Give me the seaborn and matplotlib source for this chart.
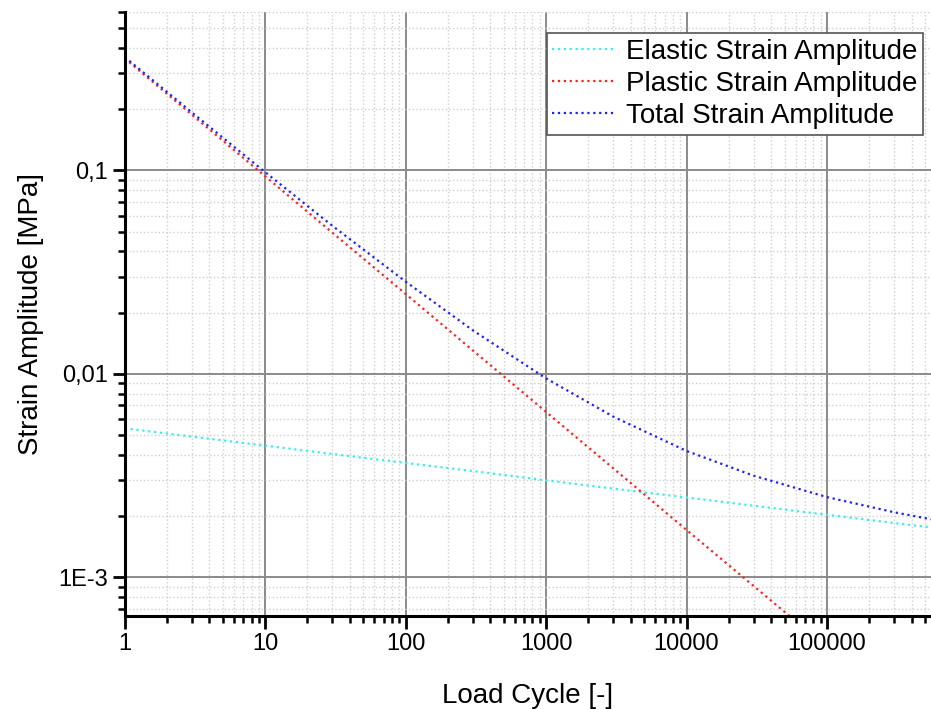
import matplotlib
matplotlib.use('Agg')
import matplotlib.pyplot as plt
import matplotlib.ticker as mticker
import seaborn as sns
import pandas as pd

# values (log-log plot)
load_cycles = [1, 3, 10, 30, 100, 300, 1000, 3000, 10000, 30000, 100000, 300000, 550000]
elastic = [0.0054, 0.00492, 0.00444, 0.00404, 0.00365, 0.00333, 0.00300,
           0.00273, 0.00247, 0.00225, 0.00203, 0.00185, 0.00176]
plastic = [0.355, 0.188, 0.0936, 0.0495, 0.0247, 0.01306, 0.0065,
           0.00344, 0.00171, 0.000908, 0.000452, 0.000239, 0.000169]
total = [0.3604, 0.1929, 0.0980, 0.0535, 0.0284, 0.01639, 0.0095,
         0.00617, 0.00418, 0.00316, 0.00248, 0.00209, 0.00193]

series = {
    'Elastic Strain Amplitude': (elastic, '#33f0f0'),
    'Plastic Strain Amplitude': (plastic, '#ff2020'),
    'Total Strain Amplitude': (total, '#2020ff'),
}

sns.set_style("white")
plt.rcParams['font.family'] = ['Liberation Sans', 'DejaVu Sans']
plt.rcParams['text.color'] = 'black'
plt.rcParams['axes.labelcolor'] = 'black'

fig = plt.figure(figsize=(9.31, 7.09), dpi=100)
ax = fig.add_axes([0.134, 0.131, 0.866, 0.852])

for name, (vals, col) in series.items():
    df = pd.DataFrame({'cycle': load_cycles, 'strain': vals})
    sns.lineplot(data=df, x='cycle', y='strain', color=col, linestyle=':',
                 linewidth=1.6, label=name, ax=ax)

ax.set_xscale('log')
ax.set_yscale('log')
ax.set_xlim(1, 5.5e5)
ax.set_ylim(6.45e-4, 0.6)

ax.xaxis.set_major_locator(mticker.LogLocator(base=10, numticks=12))
ax.xaxis.set_minor_locator(mticker.LogLocator(base=10, subs=range(2, 10), numticks=12))
ax.xaxis.set_major_formatter(mticker.FuncFormatter(lambda v, p: f"{int(round(v))}"))
ax.xaxis.set_minor_formatter(mticker.NullFormatter())

ytick_vals = [0.001, 0.01, 0.1]
ytick_labels = ['1E-3', '0,01', '0,1']
ax.set_yticks(ytick_vals)
ax.set_yticklabels(ytick_labels)
ax.yaxis.set_minor_locator(mticker.LogLocator(base=10, subs=range(2, 10), numticks=12))
ax.yaxis.set_minor_formatter(mticker.NullFormatter())

ax.grid(True, which='major', color='#8a8a8a', linewidth=1.4, linestyle='-')
ax.grid(True, which='minor', color='#cfcfcf', linewidth=1.0, linestyle=':')
ax.set_axisbelow(True)

for side in ['top', 'right']:
    ax.spines[side].set_visible(False)
for side in ['left', 'bottom']:
    ax.spines[side].set_color('black')
    ax.spines[side].set_linewidth(2.2)

ax.tick_params(which='major', direction='out', length=9, width=2, colors='black',
               labelsize=17, left=True, bottom=True, pad=3)
ax.tick_params(which='minor', direction='out', length=5, width=1.8, colors='black',
               left=True, bottom=True)

ax.set_xlabel('Load Cycle [-]', fontsize=20, labelpad=20)
ax.set_ylabel('Strain Amplitude [MPa]', fontsize=20, labelpad=10)

leg = ax.legend(loc='upper right', fontsize=20, frameon=True, fancybox=False,
                borderpad=0.2, labelspacing=0.22, handlelength=2.3,
                handletextpad=0.35, borderaxespad=0.0, bbox_to_anchor=(0.99, 0.965))
leg.get_frame().set_edgecolor('#555555')
leg.get_frame().set_linewidth(1.2)
leg.get_frame().set_alpha(1)

plt.savefig('out.png', dpi=100)
plt.close()
